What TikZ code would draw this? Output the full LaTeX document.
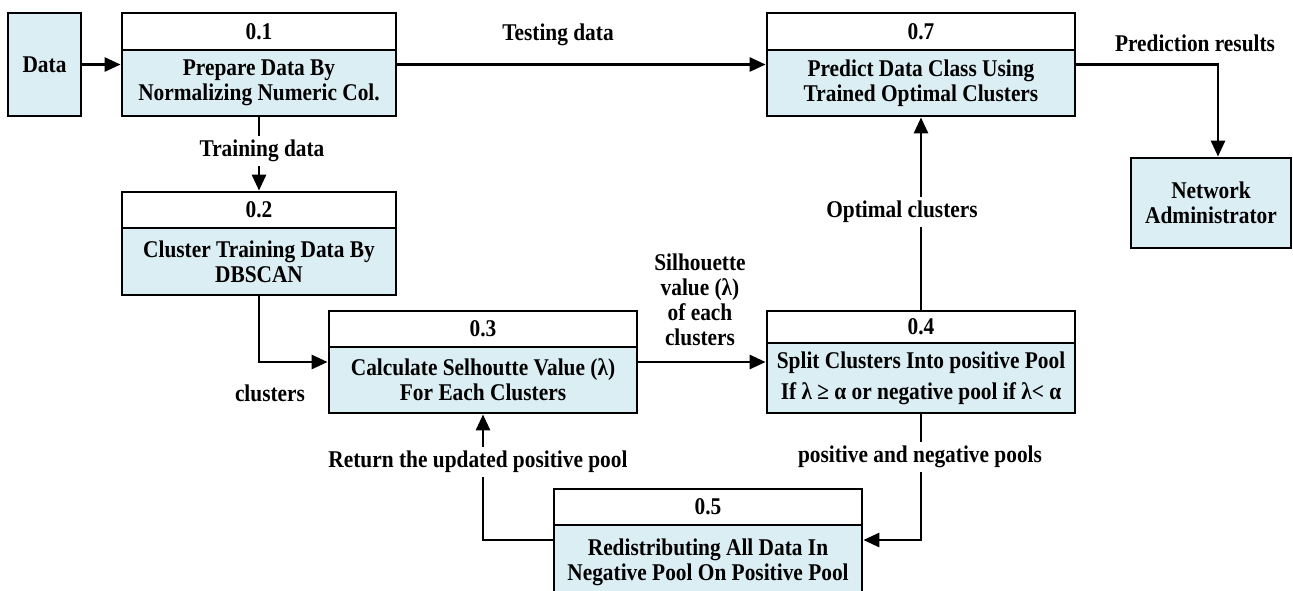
\documentclass[tikz,border=0pt]{standalone}
\usepackage{fontspec}
\setmainfont[FakeStretch=0.89]{Liberation Serif}
\usetikzlibrary{arrows.meta,calc}
\definecolor{boxblue}{HTML}{DAEEF3}
\begin{document}
\begin{tikzpicture}[x=1pt,y=-1pt,
  every node/.style={font=\fontsize{24}{25}\selectfont\bfseries, inner sep=0pt, align=center},
  hdr/.style={draw, line width=2.8pt, fill=white},
  bdy/.style={draw, line width=2.8pt, fill=boxblue},
  lbl/.style={fill=white, inner sep=4pt},
  conn/.style={line width=2.8pt, -{Triangle[length=16pt,width=14pt]}},
  plain/.style={line width=2.8pt}]
\clip (0,0) rectangle (1293,590);
\fill[white] (0,0) rectangle (1293,590);

% external entities
\node[bdy, minimum width=73pt, minimum height=103pt] (data) at (44.5,64.5) {Data};
\node[bdy, minimum width=160pt, minimum height=90pt] (na) at (1211,203) {Network\\Administrator};

% 0.1
\node[hdr, minimum width=274pt, minimum height=37pt] (h1) at (259,31.5) {0.1};
\node[bdy, minimum width=274pt, minimum height=66pt] (b1) at (259,83) {Prepare Data By\\Normalizing Numeric Col.};
% 0.2
\node[hdr, minimum width=274pt, minimum height=36pt] (h2) at (259,210) {0.2};
\node[bdy, minimum width=274pt, minimum height=67pt] (b2) at (259,261.5) {Cluster Training Data By\\DBSCAN};
% 0.3
\node[hdr, minimum width=308pt, minimum height=36pt] (h3) at (483,329) {0.3};
\node[bdy, minimum width=308pt, minimum height=66pt] (b3) at (483,380) {Calculate Selhoutte Value (λ)\\For Each Clusters};
% 0.4
\node[hdr, minimum width=308pt, minimum height=32pt] (h4) at (921,327) {0.4};
\node[bdy, minimum width=308pt, minimum height=70pt] (b4) at (921,378) {Split Clusters Into positive Pool\\[6pt]If λ ≥ α or negative pool if λ< α};
% 0.5
\node[hdr, minimum width=308pt, minimum height=36pt] (h5) at (708,507) {0.5};
\node[bdy, minimum width=308pt, minimum height=75pt] (b5) at (708,562.5) {Redistributing All Data In\\Negative Pool On Positive Pool};
% 0.7
\node[hdr, minimum width=308pt, minimum height=37pt] (h7) at (921,31.5) {0.7};
\node[bdy, minimum width=308pt, minimum height=66pt] (b7) at (921,83) {Predict Data Class Using\\Trained Optimal Clusters};

% connectors
\draw[conn] (data.east) -- (data.east -| b1.west);
\draw[conn] (b1.east |- data.east) -- (b7.west |- data.east);
\draw[conn] (b7.east |- data.east) -| ([xshift=7pt]na.north);
\draw[conn] (b1.south) -- (h2.north);
\draw[conn] (b2.south) |- ([yshift=18pt]b3.west);
\draw[conn] ([yshift=18pt]b3.east) -- ([yshift=18pt]b3.east -| b4.west);
\draw[conn] (h4.north) -- (b7.south);
\draw[conn] (b4.south) |- ([yshift=22.5pt]b5.east);
\draw[conn] ([yshift=22.5pt]b5.west) -| (b3.south);

% labels
\node (lt) at (558,35) {Testing data};
\node (lp) at (1195,43) {Prediction results};
\node[lbl] (ltr) at (262,151) {Training data};
\node (lc) at (270,393) {clusters};
\node (ls) at (700,300) {Silhouette\\value (λ)\\of each\\clusters};
\node[lbl] (lo) at (902,212) {Optimal clusters};
\node[lbl] (lpn) at (920,457) {positive and negative pools};
\node[lbl] (lr) at (478,462) {Return the updated positive pool};
\end{tikzpicture}
\end{document}
